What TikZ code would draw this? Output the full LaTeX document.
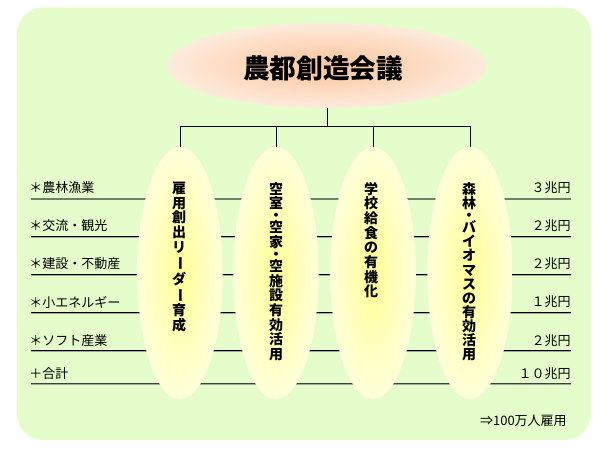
\documentclass[tikz,border=0pt]{standalone}
\usepackage{fontspec}
\setmainfont{Noto Sans CJK JP}
\usepackage{graphicx}
\usepackage{tikz}
\usetikzlibrary{positioning,
                shapes.geometric}
\definecolor{meadowgreen}{HTML}{E4FDCB}
\definecolor{peachglow}{HTML}{FCC49A}
\definecolor{peachpale}{HTML}{FDEBDC}
\definecolor{lemoncore}{HTML}{FFFF96}
\definecolor{lemonpale}{HTML}{FFFFDA}
\definecolor{rowgray}{HTML}{6F7F6A}
\newcommand{\tatebar}{\rotatebox[origin=c]{-90}{ー}}

\begin{document}
\begin{tikzpicture}[x=0.75pt,y=-0.75pt]

\tikzset{
pillar/.style={
ellipse,
minimum width=64pt,
minimum height=189pt,
inner sep=0pt,
inner color=lemoncore,
outer color=lemonpale
},
pillartext/.style={
anchor=north,
align=center,
inner sep=0pt,
font=\bfseries\fontsize{10.5pt}{11pt}\selectfont
},
rowlabel/.style={
anchor=west,
inner sep=0pt,
font=\fontsize{9.75pt}{12pt}\selectfont
},
rowvalue/.style={
anchor=east,
inner sep=0pt,
font=\fontsize{9.75pt}{12pt}\selectfont
},
rowline/.style={
draw=black,
line width=0.75pt
},
rowshade/.style={
draw=gray!70,
line width=0.75pt
},
treeline/.style={
draw=black,
line width=0.75pt
}
}

\useasboundingbox (0,0) rectangle (608,456);

%--------------------------------------------------
% BACKGROUND
%--------------------------------------------------

\fill[meadowgreen,rounded corners=19.5pt]
(17,7.5) rectangle (591,440);

%--------------------------------------------------
% SECTOR ROWS
%--------------------------------------------------

\coordinate (r1w) at (31,199);   \coordinate (r1e) at (571,199);
\coordinate (r2w) at (31,237);   \coordinate (r2e) at (571,237);
\coordinate (r3w) at (31,275);   \coordinate (r3e) at (571,275);
\coordinate (r4w) at (31,313);   \coordinate (r4e) at (571,313);
\coordinate (r5w) at (31,351);   \coordinate (r5e) at (571,351);
\coordinate (r6w) at (31,384);   \coordinate (r6e) at (571,384);

\draw[draw=rowgray,line width=1.5pt] (r1w) -- (r1e);
\draw[rowline] (r2w) -- (r2e);
\draw[rowshade] ([yshift=-0.75pt]r2w) -- ([yshift=-0.75pt]r2e);
\draw[rowline] (r3w) -- (r3e);
\draw[rowshade] ([yshift=-0.75pt]r3w) -- ([yshift=-0.75pt]r3e);
\draw[rowline] (r4w) -- (r4e);
\draw[rowshade] ([yshift=-0.75pt]r4w) -- ([yshift=-0.75pt]r4e);
\draw[rowline] (r5w) -- (r5e);
\draw[rowshade] ([yshift=-0.75pt]r5w) -- ([yshift=-0.75pt]r5e);
\draw[rowline,draw=black!75] (r6w) -- (r6e);
\draw[rowshade] ([yshift=-0.75pt]r6w) -- ([yshift=-0.75pt]r6e);

\node[rowlabel] (agri) at (29,188) {＊農林漁業};
\node[rowlabel] (tour) at (29,226) {＊交流・観光};
\node[rowlabel] (build) at (29,264) {＊建設・不動産};
\node[rowlabel] (energy) at (29,302) {＊小エネルギー};
\node[rowlabel] (soft) at (29,341) {＊ソフト産業};
\node[rowlabel] (total) at (29,374) {＋合計};

\node[rowvalue] (agrival) at (571,188) {３兆円};
\node[rowvalue] (tourval) at (571,226) {２兆円};
\node[rowvalue] (buildval) at (571,264) {２兆円};
\node[rowvalue] (energyval) at (571,302) {１兆円};
\node[rowvalue] (softval) at (571,341) {２兆円};
\node[rowvalue] (totalval) at (571,374) {１０兆円};

\node[rowvalue] (jobs) at (567,421) {⇒100万人雇用};

%--------------------------------------------------
% COUNCIL AND PILLARS
%--------------------------------------------------

\node[ellipse,minimum width=240pt,minimum height=64pt,inner sep=0pt,
inner color=peachglow,outer color=peachpale]
(council) at (327,65.5) {};
\node[font=\bfseries\fontsize{20pt}{20pt}\selectfont,inner sep=0pt]
(councilname) at (323,68) {農都創造会議};

\node[pillar] (leader) at (180,273) {};
\node[pillar] (vacant) at (276,273) {};
\node[pillar] (lunch) at (373,273) {};
\node[pillar] (forest) at (470,273) {};

\coordinate (hub) at (327,127);
\draw[treeline] (council.south) -- (hub);
\draw[treeline] (hub) -| (leader.north);
\draw[treeline] (hub) -| (vacant.north);
\draw[treeline] (hub) -| (lunch.north);
\draw[treeline] (hub) -| (forest.north);

\node[pillartext] (leadertext) at (179,182)
{雇\\用\\創\\出\\リ\\\tatebar\\ダ\\\tatebar\\育\\成};

\node[pillartext] (vacanttext) at (276,182)
{空\\室\\[-2pt]・\\[-2pt]空\\家\\[-2pt]・\\[-2pt]空\\施\\設\\有\\効\\活\\用};

\node[pillartext] (lunchtext) at (371,182)
{学\\校\\給\\食\\の\\有\\機\\化};

\node[pillartext,font=\bfseries\fontsize{10.5pt}{10.6pt}\selectfont]
(foresttext) at (469,182)
{森\\林\\[-1.5pt]・\\[-1.5pt]バ\\イ\\オ\\マ\\ス\\の\\有\\効\\活\\用};

\end{tikzpicture}
\end{document}
